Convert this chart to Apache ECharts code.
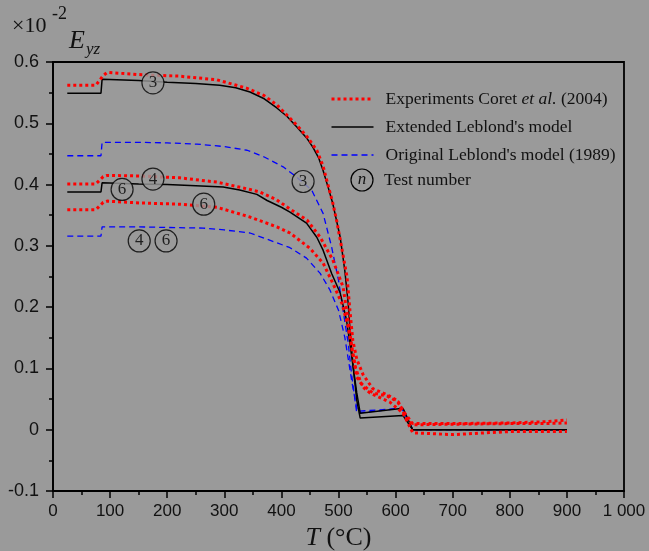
<!DOCTYPE html>
<html>
<head>
<meta charset="utf-8">
<script src="https://cdn.jsdelivr.net/npm/echarts@6/dist/echarts.min.js"></script>
<style>
  html, body { margin: 0; padding: 0; background: #9a9a9a; }
  #chart { width: 649px; height: 551px; }
</style>
</head>
<body>
<div id="chart"></div>
<script>
// axis ticks
const xTickLabels = ['0', '100', '200', '300', '400', '500', '600', '700', '800', '900', '1 000'];
const yTickLabels = ['-0.1', '0', '0.1', '0.2', '0.3', '0.4', '0.5', '0.6'];

// Experiments Coret et al. (2004) - tests 3, 4, 6  [T (°C), Eyz x1e-2]
const exp3 = [[25,0.562],[75,0.562],[88,0.578],[95,0.583],[158,0.579],[220,0.577],[287,0.571],[340,0.557],[370,0.545],[392,0.53],[427,0.497],[445,0.478],[462,0.456],[473,0.43],[480,0.405],[490,0.37],[497,0.34],[505,0.3],[515,0.249],[520,0.195],[525,0.146],[532,0.115],[543,0.09],[560,0.067],[585,0.057],[602,0.048],[616,0.027],[630,0.01],[700,0.01],[800,0.011],[860,0.013],[900,0.016]];
const exp4 = [[25,0.401],[75,0.401],[88,0.413],[95,0.415],[152,0.414],[222,0.411],[287,0.404],[340,0.393],[362,0.388],[392,0.375],[415,0.36],[445,0.342],[468,0.314],[490,0.277],[508,0.233],[515,0.19],[524,0.13],[532,0.086],[545,0.068],[555,0.06],[590,0.045],[613,0.027],[630,-0.005],[700,-0.008],[760,-0.005],[800,-0.003],[900,-0.003]];
const exp6 = [[25,0.359],[75,0.359],[88,0.371],[95,0.373],[152,0.37],[222,0.368],[287,0.363],[345,0.347],[392,0.331],[415,0.321],[450,0.296],[473,0.272],[490,0.239],[506,0.206],[517,0.168],[524,0.13],[530,0.1],[540,0.075],[560,0.06],[585,0.055],[605,0.045],[618,0.02],[630,0.008],[700,0.009],[800,0.01],[860,0.01],[900,0.011]];

// Extended Leblond's model - test 3 and tests 4/6
const ext3 = [[25,0.549],[84,0.549],[86,0.572],[150,0.57],[200,0.567],[250,0.565],[292,0.562],[320,0.558],[345,0.551],[370,0.54],[392,0.525],[410,0.511],[427,0.494],[445,0.475],[455,0.461],[465,0.444],[473,0.423],[482,0.395],[490,0.369],[503,0.314],[511,0.26],[517,0.206],[521,0.151],[526,0.1],[532,0.06],[538,0.027],[613,0.035],[630,0],[900,0]];
const ext46 = [[25,0.388],[84,0.388],[86,0.403],[150,0.401],[200,0.4],[250,0.398],[298,0.396],[327,0.391],[357,0.384],[375,0.374],[400,0.363],[415,0.355],[444,0.337],[462,0.314],[473,0.293],[488,0.255],[503,0.223],[514,0.179],[520,0.141],[526,0.1],[532,0.048],[538,0.019],[613,0.023],[630,0],[900,0]];

// Original Leblond's model (1989) - test 3 and tests 4/6
const orig3 = [[25,0.447],[84,0.447],[86,0.469],[150,0.469],[200,0.468],[252,0.466],[300,0.462],[340,0.456],[370,0.445],[403,0.429],[427,0.412],[453,0.391],[473,0.353],[488,0.298],[500,0.244],[508,0.195],[517,0.141],[523,0.09],[528,0.055],[532,0.027],[611,0.035],[630,0],[900,0]];
const orig46 = [[25,0.316],[84,0.316],[86,0.331],[150,0.331],[200,0.33],[263,0.329],[300,0.326],[345,0.321],[392,0.305],[415,0.297],[444,0.28],[468,0.255],[485,0.228],[500,0.195],[511,0.151],[518,0.11],[524,0.075],[529,0.05],[533,0.03],[611,0.035],[630,0],[900,0]];

// circled test numbers [T, Eyz, label]
const testLabels = [[175,0.566,'3'],[438,0.405,'3'],[175,0.409,'4'],[121,0.392,'6'],[264,0.368,'6'],[151,0.308,'4'],[198,0.308,'6']];

const EXP = 'Experiments Coret et al. (2004)';
const EXT = "Extended Leblond's model";
const ORIG = "Original Leblond's model (1989)";

const serif = "'Liberation Serif', 'Times New Roman', serif";
const sans = "'Liberation Sans', Arial, sans-serif";

const chart = echarts.init(document.getElementById('chart'));

function lineSeries(name, data, color, width, type) {
  return {
    name, type: 'line', data,
    symbol: 'none', showSymbol: false, silent: true,
    lineStyle: { color, width, type, cap: 'butt' },
    itemStyle: { color }
  };
}

const option = {
  backgroundColor: '#9a9a9a',
  animation: false,
  grid: {
    left: 53, right: 25, top: 62, bottom: 60, outerBoundsMode: 'none',
    show: true, borderColor: '#000', borderWidth: 1.8, backgroundColor: 'transparent'
  },
  legend: {
    data: [
      { name: EXP, lineStyle: { color: '#ff0000', width: 3, type: 'dotted' } },
      { name: EXT, lineStyle: { color: '#000000', width: 1.5, type: 'solid' } },
      { name: ORIG, lineStyle: { color: '#0000ff', width: 1.3, type: [6, 4] } }
    ],
    orient: 'vertical', left: 330, top: 90, padding: 0,
    itemWidth: 42, itemHeight: 20, itemGap: 10,
    selectedMode: false,
    itemStyle: { opacity: 0 },
    textStyle: {
      fontFamily: serif, fontSize: 17.5, color: '#111', padding: [0, 0, 0, 7],
      rich: { i: { fontFamily: serif, fontSize: 17.5, fontStyle: 'italic', color: '#111' } }
    },
    formatter: (name) => name === EXP ? 'Experiments Coret {i|et al.} (2004)' : name
  },
  xAxis: {
    type: 'value', min: 0, max: 1000, interval: 100,
    name: '{i|T} (°C)', nameLocation: 'middle', nameGap: 33,
    nameTextStyle: {
      fontFamily: serif, fontSize: 26, color: '#111',
      rich: { i: { fontFamily: serif, fontSize: 26, fontStyle: 'italic', color: '#111' } }
    },
    axisLine: { onZero: false, lineStyle: { color: '#000', width: 1.8 } },
    axisTick: { length: 7, lineStyle: { color: '#000', width: 1.5 } },
    minorTick: { show: true, splitNumber: 2, length: 4, lineStyle: { color: '#000', width: 1.5 } },
    splitLine: { show: false },
    axisLabel: {
      margin: 12, fontFamily: sans, fontSize: 17, color: '#111',
      formatter: (v) => xTickLabels[Math.round(v / 100)]
    }
  },
  yAxis: {
    type: 'value', min: -0.1, max: 0.6, interval: 0.1,
    axisLine: { onZero: false, lineStyle: { color: '#000', width: 1.8 } },
    axisTick: { length: 7, lineStyle: { color: '#000', width: 1.5 } },
    minorTick: { show: true, splitNumber: 2, length: 4, lineStyle: { color: '#000', width: 1.5 } },
    splitLine: { show: false },
    axisLabel: {
      margin: 14, fontFamily: sans, fontSize: 18, color: '#111',
      formatter: (v) => yTickLabels[Math.round((v + 0.1) / 0.1)]
    }
  },
  graphic: [
    { type: 'text', left: 12, top: 15, style: { text: '×10', font: `22px ${serif}`, fill: '#111' } },
    { type: 'text', left: 52, top: 5, style: { text: '-2', font: `18px ${serif}`, fill: '#111' } },
    { type: 'text', left: 69, top: 28, style: { text: 'E', font: `italic 26px ${serif}`, fill: '#111' } },
    { type: 'text', left: 86, top: 41, style: { text: 'yz', font: `italic 17px ${serif}`, fill: '#111' } },
    // legend entry for the circled test number
    { type: 'circle', shape: { cx: 362, cy: 180, r: 11 }, style: { fill: 'transparent', stroke: '#000', lineWidth: 1.2 } },
    { type: 'text', x: 362, y: 180, style: { text: 'n', font: `italic 17px ${serif}`, fill: '#111', align: 'center', verticalAlign: 'middle' } },
    { type: 'text', x: 384, y: 180, style: { text: 'Test number', font: `17.5px ${serif}`, fill: '#111', verticalAlign: 'middle' } }
  ],
  series: [
    lineSeries(ORIG, orig3, '#0000ff', 1.3, [6, 4]),
    lineSeries(ORIG, orig46, '#0000ff', 1.3, [6, 4]),
    lineSeries(EXT, ext3, '#000000', 1.5, 'solid'),
    lineSeries(EXT, ext46, '#000000', 1.5, 'solid'),
    lineSeries(EXP, exp3, '#ff0000', 3, 'dotted'),
    lineSeries(EXP, exp4, '#ff0000', 3, 'dotted'),
    lineSeries(EXP, exp6, '#ff0000', 3, 'dotted'),
    {
      name: 'tests', type: 'scatter', data: testLabels, silent: true,
      symbol: 'circle', symbolSize: 22,
      itemStyle: { color: '#9a9a9a', borderColor: '#000', borderWidth: 1.2 },
      label: {
        show: true, position: 'inside', fontFamily: serif, fontSize: 17, color: '#000',
        formatter: (p) => p.value[2]
      },
      z: 5
    }
  ]
};

chart.setOption(option);
</script>
</body>
</html>
